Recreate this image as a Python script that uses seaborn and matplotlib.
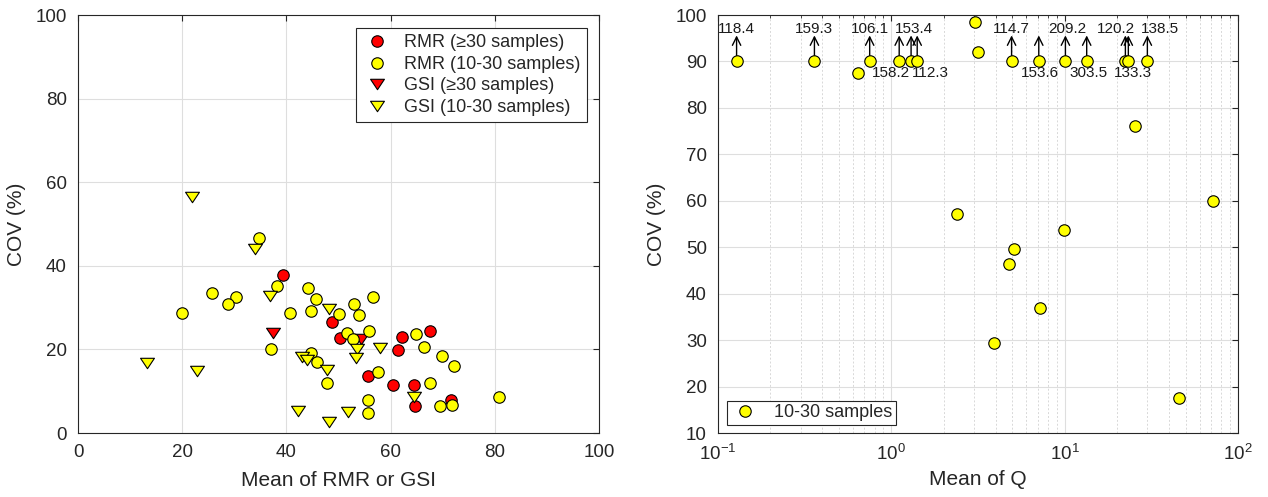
import matplotlib
matplotlib.use("Agg")
import numpy as np
import pandas as pd
import matplotlib.pyplot as plt
import seaborn as sns
from matplotlib.path import Path
from matplotlib.ticker import MultipleLocator, LogLocator, NullFormatter
from matplotlib.lines import Line2D

# ---------------- Left panel data ----------------
rmr30_mean = [39.3, 48.7, 50.3, 62.1, 67.5, 61.5, 55.7, 60.5, 64.4, 64.6, 71.6]
rmr30_cov = [37.8, 26.5, 22.8, 22.9, 24.3, 19.8, 13.7, 11.5, 11.5, 6.5, 7.8]

gsi30_mean = [37.4, 54.4]
gsi30_cov = [23.9, 22.4]

rmr10_mean = [34.7, 38.1, 44.1, 25.7, 30.3, 28.7, 45.6, 20.0, 40.6, 44.8, 37.0,
              44.8, 45.9, 47.7, 50.1, 53.0, 56.7, 53.9, 51.7, 52.8, 55.9, 64.8,
              66.4, 69.9, 72.2, 57.5, 67.6, 55.7, 55.7, 69.4, 71.8, 80.9]
rmr10_cov = [46.6, 35.2, 34.8, 33.6, 32.5, 30.8, 32.1, 28.7, 28.6, 29.1, 20.0,
             19.2, 16.9, 12.0, 28.5, 30.9, 32.5, 28.2, 23.9, 22.6, 24.3, 23.8,
             20.6, 18.4, 16.1, 14.7, 12.0, 8.0, 4.7, 6.4, 6.6, 8.5]

gsi10_mean = [21.9, 34.0, 36.9, 13.3, 22.9, 42.9, 43.9, 47.8, 42.2, 48.2,
              48.2, 53.6, 53.4, 58.0, 64.4, 51.9]
gsi10_cov = [56.5, 44.0, 32.8, 16.8, 14.9, 18.3, 17.5, 15.0, 5.3, 2.6,
             29.6, 20.0, 17.9, 20.3, 8.6, 5.0]

left_labels = ["RMR (\u226530 samples)", "RMR (10-30 samples)",
               "GSI (\u226530 samples)", "GSI (10-30 samples)"]

# ---------------- Right panel data ----------------
q_mean = [2.40, 9.96, 5.07, 4.80, 7.21, 3.90, 45.6, 71.5, 3.04, 3.16, 0.638, 25.5]
q_cov = [57.2, 53.8, 49.7, 46.4, 36.9, 29.3, 17.6, 60.0, 98.4, 92.1, 87.6, 76.0]

# points whose COV exceeds the axis (plotted at cap, value annotated)
qhi_mean = [0.128, 0.360, 0.750, 1.11, 1.30, 1.41, 4.94, 7.09, 10.1, 13.4, 22.4, 23.3, 30.0]
qhi_cov = [118.4, 159.3, 106.1, 158.2, 153.4, 112.3, 114.7, 153.6, 209.2, 303.5, 120.2, 133.3, 138.5]
CAP = 90.0
# label placement style: up/down and horizontal nudge (pixels)
label_up = [True, True, True, False, True, False, True, False, True, False, True, False, True]
label_dx_px = [0, 0, 0, -8, 3, 13, 0, 1, 2, 2, -9, 5, 13]

# ---------------- Style ----------------
sns.set_style("white")
plt.rcParams["font.family"] = ["Liberation Sans", "DejaVu Sans"]
TXT = "#262626"
plt.rcParams["text.color"] = TXT
plt.rcParams["axes.labelcolor"] = TXT
plt.rcParams["xtick.color"] = TXT
plt.rcParams["ytick.color"] = TXT

W, H = 1268, 497
fig = plt.figure(figsize=(W / 100, H / 100), dpi=100)
ax1 = fig.add_axes([78 / W, 64 / H, 521 / W, 418 / H])
ax2 = fig.add_axes([718 / W, 64 / H, 520 / W, 418 / H])

tri = Path([(-1, 0.75), (1, 0.75), (0, -0.75), (-1, 0.75)],
           [Path.MOVETO, Path.LINETO, Path.LINETO, Path.CLOSEPOLY])

RED = "#ff0000"
YEL = "#ffff00"
S_CIRC = 68
S_TRI = 100
EW = 0.8

sns.scatterplot(x=rmr30_mean, y=rmr30_cov, ax=ax1, marker="o", s=S_CIRC, color=RED,
                edgecolor="black", linewidth=EW, zorder=3)
sns.scatterplot(x=gsi30_mean, y=gsi30_cov, ax=ax1, marker=tri, s=S_TRI, color=RED,
                edgecolor="black", linewidth=EW, zorder=3)
sns.scatterplot(x=rmr10_mean, y=rmr10_cov, ax=ax1, marker="o", s=S_CIRC, color=YEL,
                edgecolor="black", linewidth=EW, zorder=4)
sns.scatterplot(x=gsi10_mean, y=gsi10_cov, ax=ax1, marker=tri, s=S_TRI, color=YEL,
                edgecolor="black", linewidth=EW, zorder=5)

ms_c = np.sqrt(S_CIRC)
ms_t = np.sqrt(S_TRI)
handles = [
    Line2D([], [], ls="none", marker="o", ms=ms_c, mfc=RED, mec="black", mew=EW),
    Line2D([], [], ls="none", marker="o", ms=ms_c, mfc=YEL, mec="black", mew=EW),
    Line2D([], [], ls="none", marker=tri, ms=ms_t, mfc=RED, mec="black", mew=EW),
    Line2D([], [], ls="none", marker=tri, ms=ms_t, mfc=YEL, mec="black", mew=EW),
]
leg1 = ax1.legend(handles, left_labels, loc="upper right",
                  bbox_to_anchor=((587 - 78) / 521, (433 - 28) / 418), borderaxespad=0,
                  fontsize=13, frameon=True, fancybox=False, edgecolor="#262626",
                  framealpha=1, handlelength=1.6, handletextpad=0.7,
                  labelspacing=0.25, borderpad=0.35)
leg1.get_frame().set_linewidth(0.8)

ax1.set_xlim(0, 100)
ax1.set_ylim(0, 100)
ax1.xaxis.set_major_locator(MultipleLocator(20))
ax1.yaxis.set_major_locator(MultipleLocator(20))
ax1.set_xlabel("Mean of RMR or GSI", fontsize=15, labelpad=7)
ax1.set_ylabel("COV (%)", fontsize=15, labelpad=7)

# Right panel
cap_vals = [min(v, CAP) for v in qhi_cov]
for xm, lbl, up, dx in zip(qhi_mean, qhi_cov, label_up, label_dx_px):
    ax2.annotate("", xy=(xm, CAP + 5.6), xytext=(xm, CAP), xycoords="data",
                 arrowprops=dict(arrowstyle="->", lw=1.0, color="black",
                                 shrinkA=0, shrinkB=0, mutation_scale=15),
                 zorder=2)
    dy = 32 if up else -11.5
    ax2.annotate(f"{lbl:.1f}", xy=(xm, CAP), xytext=(dx * 0.72, dy * 0.72),
                 textcoords="offset points", ha="center", va="center",
                 fontsize=11, color="#1a1a1a", zorder=6)

sns.scatterplot(x=q_mean + qhi_mean, y=q_cov + cap_vals, ax=ax2, marker="o",
                s=S_CIRC, color=YEL, edgecolor="black", linewidth=EW, zorder=4)
ax2.set_xscale("log")
ax2.set_xlim(0.1, 100)
ax2.set_ylim(10, 100)
ax2.yaxis.set_major_locator(MultipleLocator(10))
ax2.xaxis.set_major_locator(LogLocator(base=10, numticks=10))
ax2.xaxis.set_minor_locator(LogLocator(base=10, subs=np.arange(2, 10), numticks=20))
ax2.xaxis.set_minor_formatter(NullFormatter())
ax2.set_xlabel("Mean of Q", fontsize=15, labelpad=4)
ax2.set_ylabel("COV (%)", fontsize=15, labelpad=7)
leg2 = ax2.legend([Line2D([], [], ls="none", marker="o", ms=ms_c, mfc=YEL, mec="black", mew=EW)],
                  ["10-30 samples"], loc="lower left",
                  bbox_to_anchor=((727 - 718) / 520, (433 - 425) / 418), borderaxespad=0,
                  fontsize=13, frameon=True, fancybox=False, edgecolor="#262626",
                  framealpha=1, handlelength=1.6, handletextpad=0.8, borderpad=0.2)
leg2.get_frame().set_linewidth(0.8)

for ax in (ax1, ax2):
    ax.set_axisbelow(True)
    ax.grid(True, which="major", color="#dedede", lw=0.8, ls="-")
    for sp in ax.spines.values():
        sp.set_visible(True)
        sp.set_color("#262626")
        sp.set_linewidth(0.8)
    ax.tick_params(which="major", direction="in", top=True, right=True, length=4,
                   width=0.8, labelsize=13.5, pad=8)
    ax.tick_params(which="minor", direction="in", top=True, right=True, length=2.5,
                   width=0.6)
ax2.grid(True, which="minor", axis="x", color="#d8d8d8", lw=0.7, ls=(0, (2, 2)))

fig.savefig("out.png", dpi=100)
